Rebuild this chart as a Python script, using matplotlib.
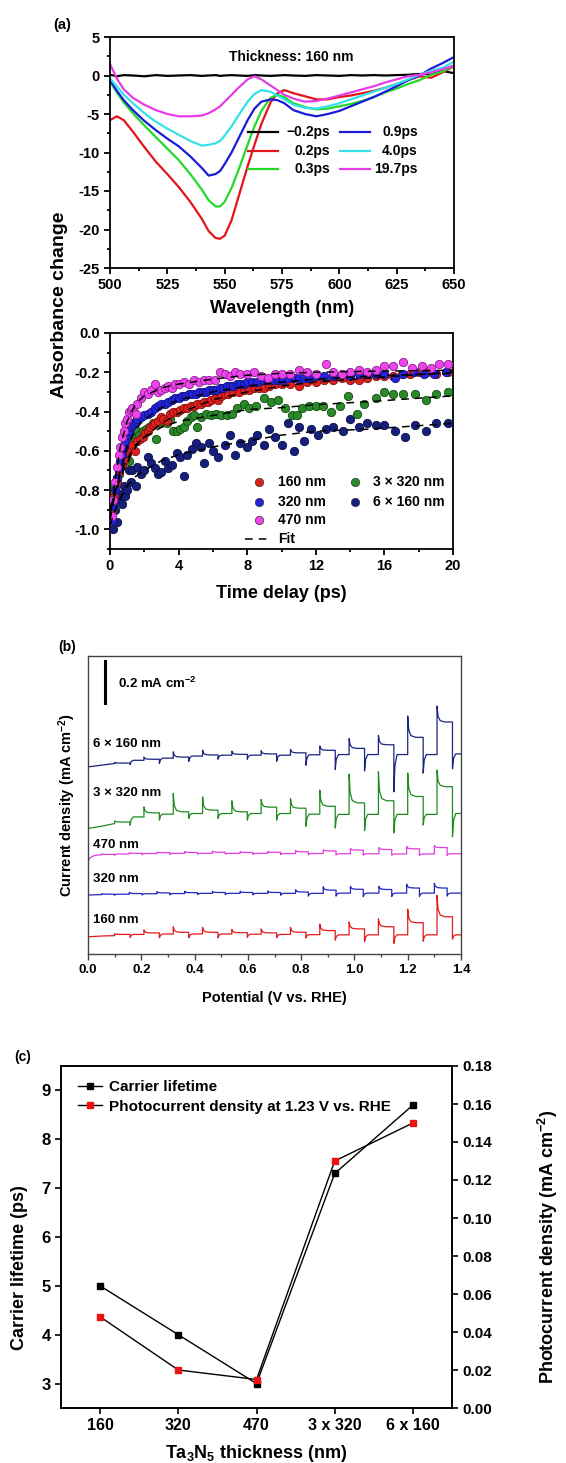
import matplotlib
matplotlib.use('Agg')
import matplotlib.pyplot as plt
from matplotlib.ticker import MultipleLocator, NullLocator

plt.rcParams['font.family'] = ['Liberation Sans', 'DejaVu Sans']
plt.rcParams['font.weight'] = 'bold'
plt.rcParams['axes.labelweight'] = 'bold'
plt.rcParams['axes.unicode_minus'] = False
plt.rcParams['mathtext.fontset'] = 'custom'
plt.rcParams['mathtext.rm'] = 'Liberation Sans:bold'
plt.rcParams['mathtext.bf'] = 'Liberation Sans:bold'
plt.rcParams['mathtext.it'] = 'Liberation Sans:bold:italic'

# ---------------- Panel (a) top: transient absorption spectra ----------------
wavelength = [500, 503, 506, 510, 515, 520, 525, 530, 535, 540, 543, 546, 548, 550, 553, 556, 560, 563,
              566, 570, 573, 576, 580, 585, 590, 595, 600, 605, 610, 615, 620, 625, 630, 635, 640, 645, 650]
spec_labels = ['\u22120.2ps', '0.2ps', '0.3ps', '0.9ps', '4.0ps', '19.7ps']
spec_m02 = [0.1, -0.1, 0.05, 0.0, -0.1, 0.05, -0.05, 0.0, 0.05, -0.05, 0.0, 0.05, -0.05, 0.0, 0.05, 0.0, -0.05, 0.05,
            0.0, -0.05, 0.0, 0.05, 0.0, -0.05, 0.05, 0.0, -0.05, 0.05, 0.0, 0.05, 0.0, 0.05, 0.1, 0.2, 0.15, 0.6, 0.3]
spec_02 = [-5.8, -5.3, -5.8, -7.3, -9.3, -11.2, -12.8, -14.5, -16.4, -18.6, -20.2, -21.1, -21.2, -20.8, -18.8, -15.8, -11.8, -9.0,
           -6.3, -3.5, -2.3, -1.9, -2.3, -2.7, -3.1, -3.1, -2.8, -2.6, -2.3, -2.0, -1.6, -1.1, -0.6, -0.1, -0.3, 0.4, 1.2]
spec_03 = [-0.8, -2.2, -3.5, -4.9, -6.5, -8.0, -9.5, -11.0, -12.8, -14.8, -16.2, -17.0, -17.0, -16.4, -14.6, -12.3, -9.0, -6.6,
           -4.6, -2.9, -2.5, -2.8, -3.6, -4.1, -4.4, -4.3, -4.0, -3.7, -3.3, -2.8, -2.2, -1.7, -1.1, -0.6, 0.1, 0.5, 1.3]
spec_09 = [-0.6, -2.0, -3.2, -4.5, -5.9, -7.1, -8.2, -9.2, -10.5, -12.0, -13.0, -12.8, -12.4, -11.5, -10.0, -8.2, -5.8, -4.3,
           -3.4, -3.1, -3.2, -3.6, -4.5, -5.0, -5.3, -5.0, -4.6, -4.0, -3.4, -2.8, -2.1, -1.4, -0.6, 0.0, 0.9, 1.6, 2.4]
spec_40 = [-0.4, -1.4, -2.5, -3.6, -4.9, -6.0, -6.9, -7.7, -8.5, -9.1, -9.0, -8.8, -8.5, -7.8, -6.6, -5.2, -3.4, -2.4,
           -1.9, -2.1, -2.6, -3.1, -3.8, -4.2, -4.3, -4.0, -3.6, -3.1, -2.6, -2.1, -1.6, -1.1, -0.5, 0.1, 0.6, 1.0, 1.8]
spec_197 = [1.5, -0.4, -1.8, -2.9, -3.8, -4.5, -5.0, -5.3, -5.3, -5.2, -4.9, -4.4, -4.0, -3.4, -2.5, -1.6, -0.5, -0.1,
            -0.5, -1.3, -1.9, -2.5, -3.0, -3.4, -3.3, -3.0, -2.6, -2.2, -1.8, -1.4, -0.9, -0.5, -0.1, 0.1, 0.4, 0.8, 1.3]

# ---------------- Panel (a) bottom: kinetics ----------------
kin_labels = ['160 nm', '320 nm', '470 nm', '3 \u00d7 320 nm', '6 \u00d7 160 nm']
t_160 = [0.1, 0.25, 0.4, 0.55, 0.7, 0.85, 1.0, 1.15, 1.3, 1.45, 1.6, 1.75, 1.9, 2.05, 2.2, 2.35, 2.5, 2.65, 2.8, 2.95,
         3.1, 3.3, 3.5, 3.7, 3.9, 4.1, 4.3, 4.5, 4.7, 4.9, 5.1, 5.3, 5.5, 5.7, 5.9, 6.1, 6.3, 6.5, 6.7, 6.9,
         7.2, 7.5, 7.8, 8.1, 8.4, 8.7, 9.0, 9.3, 9.6, 10.0, 10.5, 11.0, 11.5, 12.0, 12.5, 13.0, 13.5, 14.0, 14.5, 15.0,
         15.5, 16.0, 16.5, 17.0, 17.5, 18.0, 18.5, 19.0, 19.7]
v_160 = [-0.92, -0.83, -0.76, -0.71, -0.67, -0.64, -0.61, -0.59, -0.57, -0.60, -0.55, -0.54, -0.53, -0.51, -0.50, -0.48, -0.47, -0.46, -0.45, -0.43,
         -0.44, -0.45, -0.41, -0.40, -0.40, -0.39, -0.38, -0.38, -0.37, -0.37, -0.36, -0.36, -0.35, -0.35, -0.34, -0.33, -0.34, -0.32, -0.31, -0.31,
         -0.30, -0.30, -0.29, -0.29, -0.28, -0.28, -0.28, -0.27, -0.26, -0.26, -0.26, -0.27, -0.25, -0.25, -0.24, -0.24, -0.23, -0.24, -0.24, -0.23,
         -0.22, -0.22, -0.22, -0.21, -0.21, -0.20, -0.20, -0.21, -0.20]
t_320 = [0.1, 0.2, 0.3, 0.4, 0.5, 0.6, 0.7, 0.8, 0.9, 1.0, 1.1, 1.2, 1.3, 1.4, 1.5, 1.6, 1.8, 2.0, 2.2, 2.4,
         2.6, 2.8, 3.0, 3.2, 3.4, 3.6, 3.8, 4.0, 4.2, 4.4, 4.6, 4.8, 5.0, 5.2, 5.4, 5.6, 5.8, 6.0, 6.2, 6.4,
         6.6, 6.8, 7.0, 7.2, 7.4, 7.6, 7.8, 8.0, 8.3, 8.6, 8.9, 9.2, 9.5, 9.8, 10.1, 10.4, 10.7, 11.0, 11.3, 11.6,
         12.0, 12.5, 13.0, 13.5, 14.0, 14.5, 15.0, 15.5, 16.0, 16.6, 17.1, 17.7, 18.3, 18.9, 19.6]
v_320 = [-0.95, -0.88, -0.80, -0.74, -0.69, -0.65, -0.62, -0.58, -0.55, -0.52, -0.50, -0.48, -0.47, -0.46, -0.45, -0.44, -0.43, -0.42, -0.41, -0.40,
         -0.38, -0.37, -0.36, -0.36, -0.35, -0.34, -0.33, -0.33, -0.32, -0.32, -0.31, -0.31, -0.31, -0.30, -0.30, -0.30, -0.29, -0.29, -0.29, -0.28,
         -0.28, -0.27, -0.27, -0.27, -0.26, -0.26, -0.26, -0.25, -0.25, -0.25, -0.24, -0.24, -0.24, -0.24, -0.24, -0.23, -0.23, -0.23, -0.23, -0.23,
         -0.22, -0.22, -0.22, -0.21, -0.22, -0.21, -0.21, -0.21, -0.21, -0.23, -0.21, -0.20, -0.21, -0.21, -0.20]
t_470 = [0.1, 0.2, 0.3, 0.4, 0.5, 0.6, 0.7, 0.8, 0.9, 1.0, 1.1, 1.2, 1.3, 1.4, 1.5, 1.6, 1.8, 2.0, 2.2, 2.4,
         2.6, 2.8, 3.0, 3.2, 3.4, 3.6, 3.8, 4.0, 4.3, 4.6, 4.9, 5.2, 5.5, 5.8, 6.1, 6.4, 6.7, 7.0, 7.3, 7.6,
         8.0, 8.4, 8.8, 9.2, 9.6, 10.0, 10.5, 11.0, 11.5, 12.0, 12.6, 13.0, 13.5, 14.0, 14.5, 15.0, 15.5, 16.0, 16.5, 17.1,
         17.6, 18.2, 18.7, 19.2, 19.7]
v_470 = [-0.93, -0.85, -0.76, -0.68, -0.62, -0.58, -0.53, -0.50, -0.46, -0.44, -0.40, -0.39, -0.38, -0.40, -0.41, -0.36, -0.33, -0.30, -0.31, -0.29,
         -0.26, -0.30, -0.29, -0.28, -0.27, -0.28, -0.26, -0.26, -0.25, -0.26, -0.24, -0.25, -0.24, -0.24, -0.24, -0.20, -0.21, -0.22, -0.20, -0.21,
         -0.21, -0.20, -0.22, -0.23, -0.21, -0.21, -0.21, -0.19, -0.20, -0.21, -0.16, -0.20, -0.21, -0.20, -0.19, -0.20, -0.19, -0.17, -0.17, -0.15,
         -0.18, -0.17, -0.18, -0.16, -0.16]
t_3x320 = [0.1, 0.2, 0.3, 0.4, 0.5, 0.6, 0.7, 0.8, 0.9, 1.0, 1.1, 1.2, 1.3, 1.4, 1.5, 1.6, 1.7, 1.9, 2.1, 2.3,
           2.5, 2.7, 2.9, 3.1, 3.3, 3.5, 3.7, 3.9, 4.1, 4.3, 4.5, 4.7, 4.9, 5.1, 5.3, 5.6, 5.9, 6.2, 6.5, 6.8,
           7.1, 7.4, 7.8, 8.1, 8.5, 9.0, 9.4, 9.8, 10.2, 10.6, 10.9, 11.2, 11.6, 12.0, 12.4, 12.9, 13.4, 13.9, 14.4, 14.8,
           15.5, 16.0, 16.5, 17.1, 17.8, 18.4, 19.0, 19.7]
v_3x320 = [-0.90, -0.85, -0.78, -0.74, -0.72, -0.68, -0.66, -0.63, -0.62, -0.60, -0.65, -0.58, -0.56, -0.55, -0.52, -0.50, -0.52, -0.50, -0.49, -0.48,
           -0.46, -0.54, -0.46, -0.45, -0.46, -0.44, -0.50, -0.50, -0.49, -0.48, -0.45, -0.43, -0.42, -0.48, -0.43, -0.41, -0.42, -0.41, -0.42, -0.42,
           -0.41, -0.38, -0.36, -0.38, -0.37, -0.33, -0.35, -0.34, -0.38, -0.42, -0.42, -0.38, -0.37, -0.37, -0.37, -0.40, -0.37, -0.32, -0.41, -0.36,
           -0.33, -0.30, -0.31, -0.31, -0.31, -0.34, -0.31, -0.30]
t_6x160 = [0.1, 0.2, 0.3, 0.4, 0.5, 0.6, 0.7, 0.8, 0.9, 1.0, 1.1, 1.2, 1.3, 1.5, 1.6, 1.8, 2.0, 2.2, 2.4, 2.6,
           2.8, 3.0, 3.2, 3.4, 3.6, 3.9, 4.1, 4.3, 4.5, 4.8, 5.0, 5.3, 5.5, 5.8, 6.0, 6.3, 6.7, 7.0, 7.3, 7.6,
           8.0, 8.3, 8.6, 9.0, 9.3, 9.6, 10.0, 10.4, 10.7, 11.0, 11.3, 11.7, 12.1, 12.6, 13.0, 13.6, 14.0, 14.5, 15.0, 15.5,
           16.0, 16.6, 17.2, 17.8, 18.4, 19.0, 19.7]
v_6x160 = [-0.95, -1.0, -0.90, -0.96, -0.85, -0.82, -0.87, -0.78, -0.83, -0.80, -0.70, -0.76, -0.70, -0.78, -0.68, -0.72, -0.70, -0.63, -0.66, -0.69,
           -0.72, -0.71, -0.65, -0.69, -0.67, -0.61, -0.63, -0.73, -0.62, -0.59, -0.56, -0.58, -0.66, -0.56, -0.60, -0.63, -0.57, -0.52, -0.62, -0.56,
           -0.58, -0.55, -0.52, -0.57, -0.49, -0.53, -0.57, -0.46, -0.60, -0.48, -0.55, -0.49, -0.52, -0.49, -0.48, -0.50, -0.44, -0.48, -0.46, -0.47,
           -0.47, -0.50, -0.53, -0.47, -0.50, -0.46, -0.46]
fit_t = [0, 0.3, 0.6, 1, 1.5, 2, 3, 4, 6, 8, 10, 12, 15, 20]
fit_160 = [-0.92, -0.82, -0.74, -0.66, -0.58, -0.53, -0.46, -0.41, -0.34, -0.30, -0.27, -0.25, -0.23, -0.20]
fit_320 = [-0.95, -0.82, -0.70, -0.58, -0.49, -0.44, -0.38, -0.34, -0.30, -0.27, -0.25, -0.235, -0.22, -0.205]
fit_470 = [-0.95, -0.75, -0.58, -0.45, -0.36, -0.32, -0.28, -0.26, -0.235, -0.215, -0.205, -0.20, -0.195, -0.19]
fit_3x320 = [-0.90, -0.80, -0.72, -0.64, -0.57, -0.53, -0.48, -0.45, -0.42, -0.39, -0.38, -0.365, -0.35, -0.32]
fit_6x160 = [-0.98, -0.90, -0.84, -0.78, -0.73, -0.70, -0.65, -0.62, -0.58, -0.55, -0.52, -0.50, -0.49, -0.46]

# ---------------- Panel (b): chopped photocurrent (offset traces, mA cm-2) ----------------
# red / green / navy share one chopping sequence, blue / magenta another
on_a = [0.10, 0.21, 0.32, 0.43, 0.54, 0.65, 0.76, 0.87, 0.98, 1.09, 1.20, 1.31]
off_a = [0.158, 0.268, 0.378, 0.488, 0.598, 0.708, 0.818, 0.928, 1.038, 1.148, 1.258, 1.368]
on_b = [0.051, 0.155, 0.259, 0.363, 0.467, 0.571, 0.675, 0.779, 0.883, 0.985, 1.092, 1.196, 1.300]
off_b = [0.099, 0.203, 0.307, 0.411, 0.515, 0.619, 0.723, 0.827, 0.931, 1.033, 1.140, 1.244, 1.348]

pre_160 = ([0.0, 0.03, 0.06], [0.081, 0.083, 0.085])
dark_160 = [0.086, 0.092, 0.094, 0.094, 0.094, 0.093, 0.092, 0.091, 0.090, 0.090, 0.090, 0.090]
plat_160 = [0.092, 0.099, 0.102, 0.102, 0.100, 0.099, 0.102, 0.110, 0.118, 0.128, 0.147, 0.175]
peak_160 = [0.095, 0.113, 0.128, 0.125, 0.115, 0.118, 0.125, 0.140, 0.150, 0.165, 0.210, 0.275]
dip_160 = [0.078, 0.076, 0.076, 0.076, 0.078, 0.076, 0.075, 0.065, 0.058, 0.050, 0.060, 0.070]
end_160 = 0.090

pre_3x320 = ([0.0, 0.05], [0.590, 0.600])
dark_3x320 = [0.613, 0.644, 0.657, 0.660, 0.660, 0.660, 0.660, 0.657, 0.656, 0.656, 0.656, 0.656]
plat_3x320 = [0.620, 0.663, 0.668, 0.676, 0.668, 0.690, 0.685, 0.694, 0.710, 0.720, 0.740, 0.786]
peak_3x320 = [0.625, 0.691, 0.754, 0.738, 0.720, 0.726, 0.730, 0.770, 0.845, 0.856, 0.850, 0.864]
dip_3x320 = [0.605, 0.629, 0.637, 0.637, 0.629, 0.629, 0.600, 0.592, 0.580, 0.569, 0.606, 0.551]
end_3x320 = 0.660

pre_6x160 = ([0.0], [0.879])
dark_6x160 = [0.895, 0.910, 0.920, 0.930, 0.934, 0.934, 0.934, 0.936, 0.937, 0.937, 0.937, 0.937]
plat_6x160 = [0.897, 0.915, 0.925, 0.935, 0.938, 0.940, 0.945, 0.957, 0.966, 0.983, 1.018, 1.090]
peak_6x160 = [0.900, 0.925, 0.950, 0.958, 0.953, 0.955, 0.961, 0.977, 1.012, 1.027, 1.118, 1.165]
dip_6x160 = [0.890, 0.895, 0.905, 0.915, 0.915, 0.905, 0.887, 0.867, 0.860, 0.762, 0.850, 0.870]
end_6x160 = 0.940

pre_320 = ([0.0], [0.277])
dark_320 = [0.279, 0.281, 0.283, 0.284, 0.285, 0.285, 0.285, 0.285, 0.285, 0.286, 0.286, 0.286, 0.286]
plat_320 = [0.281, 0.284, 0.287, 0.288, 0.289, 0.289, 0.289, 0.291, 0.300, 0.304, 0.303, 0.310, 0.310]
peak_320 = [0.283, 0.290, 0.293, 0.295, 0.294, 0.295, 0.296, 0.302, 0.316, 0.318, 0.318, 0.328, 0.332]
dip_320 = [0.276, 0.277, 0.278, 0.279, 0.279, 0.278, 0.276, 0.272, 0.272, 0.270, 0.270, 0.270, 0.272]
end_320 = 0.286

pre_470 = ([0.0, 0.008, 0.02, 0.035], [0.438, 0.452, 0.461, 0.465])
dark_470 = [0.466, 0.470, 0.472, 0.473, 0.473, 0.473, 0.473, 0.472, 0.472, 0.471, 0.471, 0.470, 0.470]
plat_470 = [0.468, 0.473, 0.476, 0.477, 0.478, 0.477, 0.478, 0.480, 0.484, 0.488, 0.491, 0.494, 0.500]
peak_470 = [0.469, 0.476, 0.479, 0.481, 0.483, 0.481, 0.482, 0.486, 0.490, 0.496, 0.500, 0.505, 0.510]
dip_470 = [0.463, 0.466, 0.468, 0.469, 0.469, 0.468, 0.467, 0.466, 0.465, 0.464, 0.464, 0.463, 0.463]
end_470 = 0.471

trace_names = ['6 \u00d7 160 nm', '3 \u00d7 320 nm', '470 nm', '320 nm', '160 nm']

# ---------------- Panel (c) ----------------
thickness = ['160', '320', '470', '3 x 320', '6 x 160']
lifetime = [5.0, 4.0, 3.0, 7.3, 8.7]
photocurrent = [0.048, 0.020, 0.015, 0.130, 0.150]

# =====================================================================
W, H = 566, 1463
fig = plt.figure(figsize=(W / 100, H / 100), dpi=100)


def axes_px(left, top, right, bottom):
    return fig.add_axes([left / W, 1 - bottom / H, (right - left) / W, (bottom - top) / H])


def style(ax, lw=1.3, size=10.5):
    for s in ax.spines.values():
        s.set_linewidth(lw)
    ax.tick_params(which='both', direction='out', width=lw, labelsize=size)
    ax.tick_params(which='major', length=4)
    ax.tick_params(which='minor', length=2.5)


# ---- (a) top
ax1 = axes_px(110, 37, 454, 268)
cols1 = ['#000000', '#e3141c', '#25d92a', '#1c1cd8', '#33e3ea', '#e53ce6']
for ys, c in zip([spec_m02, spec_02, spec_03, spec_09, spec_40, spec_197], cols1):
    ax1.plot(wavelength, ys, color=c, lw=1.6)
ax1.set_xlim(500, 650)
ax1.set_ylim(-25, 5)
ax1.xaxis.set_major_locator(MultipleLocator(25))
ax1.xaxis.set_minor_locator(MultipleLocator(12.5))
ax1.yaxis.set_major_locator(MultipleLocator(5))
ax1.yaxis.set_minor_locator(MultipleLocator(2.5))
style(ax1)
ax1.set_xlabel('Wavelength (nm)', fontsize=13)
ax1.xaxis.label.set_va('center')
ax1.xaxis.set_label_coords(0.5, -0.175)
ax1.text(579, 2.4, 'Thickness: 160 nm', ha='center', va='center', fontsize=10)
# manual legend (2 columns, right-aligned labels)
rows = [0.589, 0.505, 0.430]
for i, (lab, c) in enumerate(zip(spec_labels, cols1)):
    col, r = divmod(i, 3)
    x0, x1, xt = [(0.401, 0.488, 0.640), (0.669, 0.756, 0.895)][col]
    ax1.plot([x0, x1], [rows[r], rows[r]], color=c, lw=1.6, transform=ax1.transAxes)
    ax1.text(xt, rows[r], lab, ha='right', va='center', fontsize=10, transform=ax1.transAxes)

# ---- (a) bottom
ax2 = axes_px(110, 333, 453, 549)
kin = [(t_6x160, v_6x160, '#16207c', '#0a0f45'),
       (t_3x320, v_3x320, '#2a8a2a', '#124a12'),
       (t_160, v_160, '#e0201c', '#801010'),
       (t_320, v_320, '#2424e0', '#10107a'),
       (t_470, v_470, '#ee44ee', '#8a208a')]
for t, v, fc, ec in kin:
    ax2.plot(t, v, 'o', ms=6, mfc=fc, mec=ec, mew=0.6, zorder=3)
for f in [fit_160, fit_320, fit_470, fit_3x320, fit_6x160]:
    ax2.plot(fit_t, f, color='black', lw=1.1, ls=(0, (5, 4)), zorder=4)
ax2.set_xlim(0, 20)
ax2.set_ylim(-1.1, 0.0)
ax2.xaxis.set_major_locator(MultipleLocator(4))
ax2.xaxis.set_minor_locator(MultipleLocator(2))
ax2.yaxis.set_major_locator(MultipleLocator(0.2))
ax2.yaxis.set_minor_locator(MultipleLocator(0.1))
ax2.yaxis.set_major_formatter(plt.FuncFormatter(lambda v, p: '%.1f' % v))
style(ax2)
ax2.set_xlabel('Time delay (ps)', fontsize=13)
ax2.xaxis.label.set_va('center')
ax2.xaxis.set_label_coords(0.5, -0.205)
leg_cols = {'160 nm': '#e0201c', '320 nm': '#2424e0', '470 nm': '#ee44ee',
            '3 \u00d7 320 nm': '#2a8a2a', '6 \u00d7 160 nm': '#16207c'}
pos = [('160 nm', 0.434, 0.490, 0.310), ('320 nm', 0.434, 0.490, 0.218), ('470 nm', 0.434, 0.490, 0.134),
       ('3 \u00d7 320 nm', 0.714, 0.767, 0.310), ('6 \u00d7 160 nm', 0.714, 0.767, 0.218)]
for lab, xm, xt, yr in pos:
    ax2.plot([xm], [yr], 'o', ms=6, mfc=leg_cols[lab], mec='#333333', mew=0.5, transform=ax2.transAxes)
    ax2.text(xt, yr, lab, ha='left', va='center', fontsize=10, transform=ax2.transAxes)
ax2.plot([0.394, 0.461], [0.046, 0.046], color='black', lw=1.1, ls=(0, (5, 4)), transform=ax2.transAxes)
ax2.text(0.490, 0.046, 'Fit', ha='left', va='center', fontsize=10, transform=ax2.transAxes)

fig.text(60 / W, 1 - 305 / H, 'Absorbance change', rotation=90, ha='center', va='center', fontsize=14)
fig.text(62 / W, 1 - 25 / H, '(a)', ha='center', va='center', fontsize=10.5)


# ---- (b)
def build_trace(pre, on_v, off_v, dark, plat, peak, dip, end_lvl, end_v=1.4):
    xs, ys = list(pre[0]), list(pre[1])
    n = len(on_v)
    for k in range(n):
        nxt = dark[k + 1] if k + 1 < n else end_lvl
        a, b = on_v[k], off_v[k]
        xs += [a, a, a + 0.004, a + 0.012, a + 0.03, b, b, b + 0.004, b + 0.012]
        ys += [dark[k], peak[k], plat[k] + 0.35 * (peak[k] - plat[k]), plat[k] + 0.08 * (peak[k] - plat[k]),
               plat[k], plat[k], dip[k], nxt - 0.3 * (nxt - dip[k]), nxt]
    xs.append(end_v)
    ys.append(end_lvl)
    return xs, ys


ax3 = axes_px(88, 656, 461, 954)
traces = [
    (pre_6x160, on_a, off_a, dark_6x160, plat_6x160, peak_6x160, dip_6x160, end_6x160, '#1a237e'),
    (pre_3x320, on_a, off_a, dark_3x320, plat_3x320, peak_3x320, dip_3x320, end_3x320, '#1f8a1f'),
    (pre_470, on_b, off_b, dark_470, plat_470, peak_470, dip_470, end_470, '#e03ce0'),
    (pre_320, on_b, off_b, dark_320, plat_320, peak_320, dip_320, end_320, '#2228c0'),
    (pre_160, on_a, off_a, dark_160, plat_160, peak_160, dip_160, end_160, '#e31a1c'),
]
for pre, on_v, off_v, d, p, pk, dp, e, c in traces:
    xs, ys = build_trace(pre, on_v, off_v, d, p, pk, dp, e)
    ax3.plot(xs, ys, color=c, lw=0.9)
ax3.set_xlim(0, 1.4)
ax3.set_ylim(0, 1.4)
ax3.xaxis.set_major_locator(MultipleLocator(0.2))
ax3.xaxis.set_minor_locator(MultipleLocator(0.1))
ax3.xaxis.set_major_formatter(plt.FuncFormatter(lambda v, p: '%.1f' % v))
ax3.yaxis.set_major_locator(NullLocator())
for s in ax3.spines.values():
    s.set_linewidth(1.0)
    s.set_color('#444444')
ax3.tick_params(which='both', direction='out', width=1.0, labelsize=9.5, color='#444444')
ax3.tick_params(which='major', length=4)
ax3.tick_params(which='minor', length=2.5)
ax3.set_xlabel('Potential (V vs. RHE)', fontsize=10.5)
ax3.xaxis.label.set_va('center')
ax3.xaxis.set_label_coords(0.5, -0.148)
ax3.set_ylabel('Current density (mA cm$^{-2}$)', fontsize=10.5)
ax3.yaxis.label.set_va('center')
ax3.yaxis.set_label_coords(-0.056, 0.5)
label_y = [0.986, 0.756, 0.512, 0.352, 0.160]
for name, yy in zip(trace_names, label_y):
    ax3.text(0.02, yy, name, ha='left', va='center', fontsize=9.5)
ax3.plot([0.064, 0.064], [1.178, 1.378], color='black', lw=2.2)
ax3.text(0.113, 1.27, '0.2 mA cm$^{-2}$', ha='left', va='center', fontsize=9.5)
fig.text(67 / W, 1 - 647 / H, '(b)', ha='center', va='center', fontsize=10)

# ---- (c)
ax4 = axes_px(61, 1066, 452, 1408)
ax5 = ax4.twinx()
xpos = list(range(len(thickness)))
l1, = ax4.plot(xpos, lifetime, '-s', color='black', lw=1.0, ms=5, mfc='black', mec='black',
               label='Carrier lifetime', zorder=3)
l2, = ax5.plot(xpos, photocurrent, '-s', color='black', lw=1.0, ms=5, mfc='#ee1111', mec='#ee1111',
               label='Photocurrent density at 1.23 V vs. RHE', zorder=3)
ax4.set_xlim(-0.5, 4.5)
ax4.set_ylim(2.5, 9.5)
ax5.set_ylim(0, 0.18)
ax4.set_xticks(xpos)
ax4.set_xticklabels(thickness)
ax4.yaxis.set_major_locator(MultipleLocator(1))
ax5.yaxis.set_major_locator(MultipleLocator(0.02))
ax5.yaxis.set_major_formatter(plt.FuncFormatter(lambda v, p: '%.2f' % v))
for a in (ax4, ax5):
    for s in a.spines.values():
        s.set_linewidth(1.2)
    a.tick_params(which='both', direction='out', width=1.2, length=4, labelsize=11)
ax4.tick_params(axis='x', labelsize=11.5)
ax4.tick_params(axis='y', labelsize=12)
ax4.set_xlabel('Ta$_{3}$N$_{5}$ thickness (nm)', fontsize=13)
ax4.xaxis.label.set_va('center')
ax4.xaxis.set_label_coords(0.5, -0.132)
ax4.set_ylabel('Carrier lifetime (ps)', fontsize=13)
ax4.yaxis.label.set_va('center')
ax4.yaxis.set_label_coords(-0.105, 0.41)
ax5.set_ylabel('Photocurrent density (mA cm$^{-2}$)', fontsize=13)
ax5.yaxis.label.set_va('center')
ax5.yaxis.set_label_coords(1.245, 0.47)
ax4.legend([l1, l2], [l1.get_label(), l2.get_label()], loc='upper left', bbox_to_anchor=(0.02, 0.985),
           frameon=False, fontsize=11, handlelength=1.6, handletextpad=0.4, borderaxespad=0.2, labelspacing=0.35)
fig.text(23 / W, 1 - 1057 / H, '(c)', ha='center', va='center', fontsize=10)

fig.savefig('out.png', dpi=100)
